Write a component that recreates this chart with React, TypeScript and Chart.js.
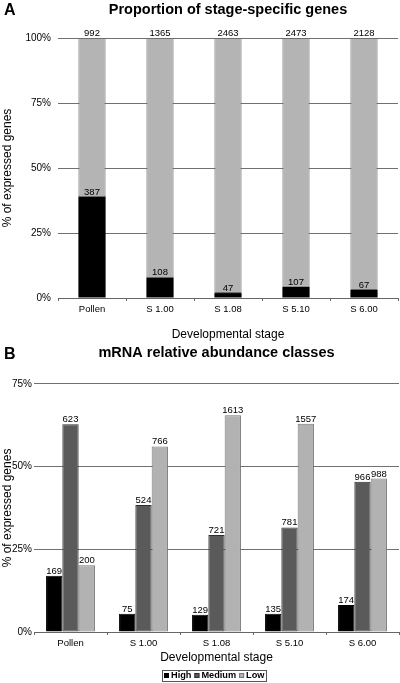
import React, { useEffect, useRef } from 'react';
import { Chart, registerables } from 'chart.js';

Chart.register(...registerables);

const FONT = '"Liberation Sans", Arial, Helvetica, sans-serif';

// ---- Panel A data ----
const stages = ['Pollen', 'S 1.00', 'S 1.08', 'S 5.10', 'S 6.00'];
const specificPct = [39.0, 7.9, 1.9, 4.3, 3.1];
const otherPct = [61.0, 92.1, 98.1, 95.7, 96.9];
const specificCounts = ['387', '108', '47', '107', '67'];
const totalCounts = ['992', '1365', '2463', '2473', '2128'];

// ---- Panel B data ----
const highPct = [17.0, 5.5, 5.2, 5.5, 8.2];
const mediumPct = [62.8, 38.4, 29.3, 31.6, 45.4];
const lowPct = [20.2, 56.1, 65.5, 63.0, 46.4];
const highCounts = ['169', '75', '129', '135', '174'];
const mediumCounts = ['623', '524', '721', '781', '966'];
const lowCounts = ['200', '766', '1613', '1557', '988'];

const seriesNamesB = ['High', 'Medium', 'Low'];

const valueLabels = {
  id: 'valueLabels',
  afterDatasetsDraw(chart: any, _args: any, opts: any) {
    const ctx = chart.ctx;
    ctx.save();
    ctx.font = `${opts.size || 9.5}px ${FONT}`;
    ctx.fillStyle = '#000';
    ctx.textAlign = 'center';
    ctx.textBaseline = 'alphabetic';
    chart.data.datasets.forEach((_ds: any, di: number) => {
      const meta = chart.getDatasetMeta(di);
      const labels = opts.labels[di];
      meta.data.forEach((el: any, i: number) => {
        ctx.fillText(labels[i], el.x, el.y - 2);
      });
    });
    ctx.restore();
  },
};

const panelLetter = {
  id: 'panelLetter',
  afterDraw(chart: any, _args: any, opts: any) {
    const ctx = chart.ctx;
    ctx.save();
    ctx.font = `bold 16px ${FONT}`;
    ctx.fillStyle = '#000';
    ctx.textAlign = 'left';
    ctx.textBaseline = 'alphabetic';
    ctx.fillText(opts.text, opts.x, opts.y);
    ctx.restore();
  },
};

const boxLegend = {
  id: 'boxLegend',
  afterDraw(chart: any, _args: any, opts: any) {
    if (!opts.show) return;
    const ctx = chart.ctx;
    ctx.save();
    ctx.font = `bold 9.2px ${FONT}`;
    const sq = 5, gapAfterSq = 2, gapItems = 3, pad = 2;
    const items = chart.data.datasets.map((ds: any) => ({
      text: ds.label,
      fill: ds.backgroundColor,
      stroke: ds.borderColor,
      w: ctx.measureText(ds.label).width,
    }));
    const total =
      items.reduce((s: number, it: any) => s + sq + gapAfterSq + it.w, 0) +
      gapItems * (items.length - 1) + pad * 2;
    const cx = (chart.chartArea.left + chart.chartArea.right) / 2 - 2;
    const cy = opts.y;
    let x = Math.round(cx - total / 2);
    ctx.strokeStyle = '#555';
    ctx.lineWidth = 1;
    ctx.strokeRect(x + 0.5, Math.round(cy - 5.5) + 0.5, Math.round(total), 11);
    x += pad;
    ctx.textBaseline = 'middle';
    ctx.textAlign = 'left';
    items.forEach((it: any) => {
      const sy = Math.round(cy - sq / 2);
      ctx.fillStyle = it.fill;
      ctx.fillRect(x, sy, sq, sq);
      ctx.strokeStyle = it.stroke;
      ctx.strokeRect(x + 0.5, sy + 0.5, sq - 1, sq - 1);
      x += sq + gapAfterSq;
      ctx.fillStyle = '#000';
      ctx.fillText(it.text, x, cy + 0.5);
      x += it.w + gapItems;
    });
    ctx.restore();
  },
};

function yAxis(max: number, width: number, pad: number, titlePad: number) {
  return {
    min: 0,
    max,
    stacked: true,
    afterFit: (s: any) => { s.width = width; },
    border: { display: false },
    grid: { color: '#707070', lineWidth: 1, drawTicks: false },
    ticks: {
      stepSize: 25,
      padding: pad,
      color: '#000',
      font: { size: 10, family: FONT },
      callback: (v: any) => `${v}%`,
    },
    title: {
      display: true,
      text: '% of expressed genes',
      color: '#000',
      font: { size: 12, family: FONT },
      padding: { top: titlePad, bottom: 0 },
    },
  };
}

function xAxis(height: number, tickPad: number, titleBottom: number, stacked: boolean) {
  return {
    stacked,
    afterFit: (s: any) => { s.height = height; },
    border: { display: true, color: '#666', width: 1 },
    grid: { display: true, drawOnChartArea: false, drawTicks: true, tickLength: 3, color: '#666', offset: true },
    ticks: { padding: tickPad, color: '#000', font: { size: 9.5, family: FONT } },
    title: {
      display: true,
      text: 'Developmental stage',
      color: '#000',
      font: { size: 12, family: FONT },
      padding: { top: 0, bottom: titleBottom },
    },
  };
}

export default function App() {
  const refA = useRef<HTMLCanvasElement>(null);
  const refB = useRef<HTMLCanvasElement>(null);

  useEffect(() => {
    document.body.style.margin = '0';
    Chart.defaults.font.family = FONT;
    Chart.defaults.color = '#000';

    const chartA = new Chart(refA.current as HTMLCanvasElement, {
      type: 'bar',
      data: {
        labels: stages,
        datasets: [
          {
            label: 'Stage-specific',
            data: specificPct,
            backgroundColor: '#000000',
            borderColor: '#000000',
            borderWidth: 0,
            categoryPercentage: 0.8,
            barPercentage: 0.5,
          },
          {
            label: 'Other',
            data: otherPct,
            backgroundColor: '#b4b4b4',
            borderColor: '#6f6f6f',
            borderWidth: 1,
            borderSkipped: false,
            categoryPercentage: 0.8,
            barPercentage: 0.5,
          },
        ],
      },
      options: {
        responsive: false,
        animation: false,
        layout: { padding: { right: 2 } },
        scales: {
          x: xAxis(47, 3, 2.8, true),
          y: yAxis(100, 58, 7, 0),
        },
        plugins: {
          legend: { display: false },
          tooltip: { enabled: false },
          title: {
            display: true,
            fullSize: false,
            text: 'Proportion of stage-specific genes',
            color: '#000',
            font: { size: 14.5, weight: 'bold', family: FONT, lineHeight: 1.2 },
            padding: { top: 1.3, bottom: 19.3 },
          },
          valueLabels: { labels: [specificCounts, totalCounts], size: 9.5 },
          panelLetter: { text: 'A', x: 4, y: 15 },
          boxLegend: { show: false },
        } as any,
      },
      plugins: [valueLabels, panelLetter, boxLegend],
    } as any);

    const chartB = new Chart(refB.current as HTMLCanvasElement, {
      type: 'bar',
      data: {
        labels: stages,
        datasets: [
          {
            label: seriesNamesB[0],
            data: highPct,
            backgroundColor: '#000000',
            borderColor: '#000000',
            borderWidth: 1,
            categoryPercentage: 0.67,
            barPercentage: 1.0,
          },
          {
            label: seriesNamesB[1],
            data: mediumPct,
            backgroundColor: '#5a5a5a',
            borderColor: '#2e2e2e',
            borderWidth: 1,
            borderSkipped: false,
            categoryPercentage: 0.67,
            barPercentage: 1.0,
          },
          {
            label: seriesNamesB[2],
            data: lowPct,
            backgroundColor: '#b2b2b2',
            borderColor: '#787878',
            borderWidth: 1,
            borderSkipped: false,
            categoryPercentage: 0.67,
            barPercentage: 1.0,
          },
        ],
      },
      options: {
        responsive: false,
        animation: false,
        layout: { padding: { right: 1 } },
        scales: {
          x: xAxis(51, 2.3, 17.8, false),
          y: { ...yAxis(75, 34, 2, 0), stacked: false },
        },
        plugins: {
          legend: { display: false },
          tooltip: { enabled: false },
          title: {
            display: true,
            fullSize: false,
            text: 'mRNA relative abundance classes',
            color: '#000',
            font: { size: 14.5, weight: 'bold', family: FONT, lineHeight: 1.1 },
            padding: { top: 0, bottom: 23 },
          },
          valueLabels: { labels: [highCounts, mediumCounts, lowCounts], size: 9.5 },
          panelLetter: { text: 'B', x: 4, y: 14 },
          boxLegend: { show: true, y: 330 },
        } as any,
      },
      plugins: [valueLabels, panelLetter, boxLegend],
    } as any);

    return () => {
      chartA.destroy();
      chartB.destroy();
    };
  }, []);

  return (
    <div style={{ position: 'absolute', left: 0, top: 0, width: 400, height: 683, background: '#fff' }}>
      <canvas ref={refA} width={400} height={345} style={{ display: 'block', width: 400, height: 345 }} />
      <canvas ref={refB} width={400} height={338} style={{ display: 'block', width: 400, height: 338 }} />
    </div>
  );
}
